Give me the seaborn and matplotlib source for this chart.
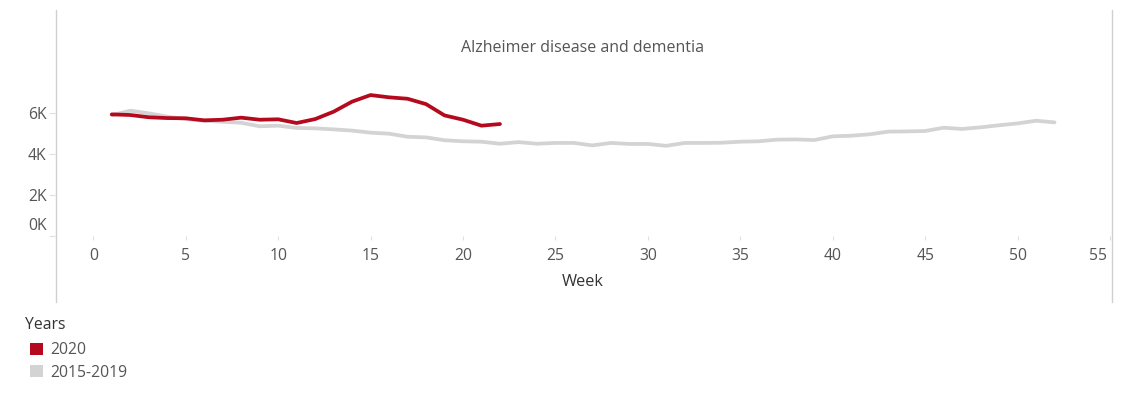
import matplotlib
matplotlib.use("Agg")
import matplotlib.pyplot as plt
from matplotlib.patches import Patch
from matplotlib.lines import Line2D
from matplotlib.transforms import ScaledTranslation
import seaborn as sns
import pandas as pd

# ---- data ----
weeks_2020 = list(range(1, 23))
deaths_2020 = [5920, 5890, 5780, 5740, 5730, 5630, 5660, 5760, 5660, 5680, 5500,
               5690, 6050, 6540, 6860, 6750, 6680, 6420, 5870, 5660, 5370, 5450]

weeks_base = list(range(1, 53))
deaths_base = [5880, 6100, 5970, 5810, 5690, 5610, 5560, 5510, 5340, 5370, 5260,
               5240, 5190, 5130, 5030, 4980, 4830, 4800, 4660, 4610, 4590, 4490,
               4570, 4490, 4530, 4530, 4410, 4530, 4480, 4480, 4390, 4530, 4530,
               4540, 4590, 4610, 4690, 4700, 4670, 4850, 4880, 4950, 5080, 5090,
               5110, 5270, 5210, 5290, 5390, 5480, 5610, 5530]

series_names = ["2020", "2015-2019"]
colors = {"2020": "#B50A1E", "2015-2019": "#D3D3D3"}
title = "Alzheimer disease and dementia"
legend_title = "Years"
x_ticks = [0, 5, 10, 15, 20, 25, 30, 35, 40, 45, 50, 55]
y_ticks = [0, 2000, 4000, 6000]
y_tick_labels = ["0K", "2K", "4K", "6K"]

df = pd.concat([
    pd.DataFrame({"Week": weeks_base, "Deaths": deaths_base, "Years": "2015-2019"}),
    pd.DataFrame({"Week": weeks_2020, "Deaths": deaths_2020, "Years": "2020"}),
])

# ---- figure ----
sns.set_theme(style="white")
plt.rcParams["font.family"] = ["Open Sans", "DejaVu Sans"]

W, H = 1128, 393
fig = plt.figure(figsize=(W / 100, H / 100), dpi=100)
ax = fig.add_axes([55 / W, 1 - 236 / H, (1110 - 55) / W, (236 - 10) / H])

sns.lineplot(data=df, x="Week", y="Deaths", hue="Years",
             hue_order=["2015-2019", "2020"], palette=colors,
             linewidth=2.7, ax=ax, legend=False, sort=True)

ax.set_xlim(-2.07, 55)
ax.set_ylim(0, 11000)
for s in ax.spines.values():
    s.set_visible(False)

ax.set_xticks(x_ticks)
ax.set_xticklabels([str(t) for t in x_ticks])
ax.set_yticks(y_ticks)
ax.set_yticklabels(y_tick_labels)
ax.tick_params(axis="x", length=3, width=0.8, color="#E0E0E0", pad=6,
               labelsize=11.3, labelcolor="#555555", bottom=True)
ax.tick_params(axis="y", length=4, width=0.8, color="#E0E0E0", pad=2,
               labelsize=11.3, labelcolor="#555555", left=True)

# Tableau-style inward shift of edge labels
ylabels = ax.get_yticklabels()
ylabels[0].set_transform(ylabels[0].get_transform() +
                         ScaledTranslation(0, 12 / 100, fig.dpi_scale_trans))
xlabels = ax.get_xticklabels()
xlabels[-1].set_transform(xlabels[-1].get_transform() +
                          ScaledTranslation(-12 / 100, 0, fig.dpi_scale_trans))

ax.set_xlabel("Week", fontsize=11.8, color="#333333", labelpad=7)
ax.set_ylabel("")

ax.text(0.5, (236 - 48) / 226, title, transform=ax.transAxes,
        ha="center", va="center", fontsize=11.5, color="#555555")

# pane borders
for xp in (55.5, 1111.5):
    fig.add_artist(Line2D([xp / W, xp / W], [1 - 10 / H, 1 - 302 / H],
                          transform=fig.transFigure, color="#D0D0D0", lw=1))

# legend
fig.text(25 / W, 1 - 325 / H, legend_title, ha="left", va="center",
         fontsize=11.3, color="#333333")
handles = [Patch(facecolor=colors[n], edgecolor="none", label=n) for n in series_names]
leg = fig.legend(handles=handles, loc="upper left",
                 bbox_to_anchor=(27 / W, 1 - 339 / H), frameon=False,
                 fontsize=11.3, handlelength=0.8, handleheight=0.8,
                 handletextpad=0.45, labelspacing=0.42, borderaxespad=0,
                 borderpad=0.2)
for t in leg.get_texts():
    t.set_color("#555555")

fig.savefig("out.png", dpi=100)
